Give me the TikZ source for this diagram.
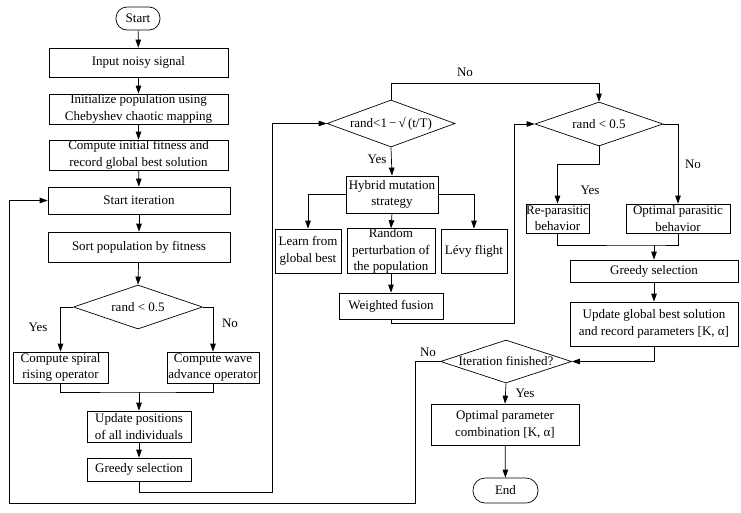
\documentclass[tikz,border=0pt]{standalone}
\usepackage{fontspec}
\setmainfont{Liberation Serif}
\usetikzlibrary{shapes.geometric,arrows.meta}
\begin{document}
\begin{tikzpicture}[x=1pt,y=-1pt,
  txt/.style={font=\fontsize{13}{16.5}\selectfont},
  box/.style={draw,line width=0.7pt,align=center,inner sep=0pt,txt},
  dia/.style={draw,diamond,line width=0.7pt,inner sep=0pt},
  term/.style={box,rounded corners=11pt},
  lbl/.style={txt,inner sep=0pt},
  arr/.style={line width=0.7pt,-{Triangle[length=8pt,width=5.5pt]}},
  ln/.style={line width=0.7pt}]
\useasboundingbox (0,0) rectangle (741,512);
% left column
\node[term,minimum width=44pt,minimum height=23pt] (start) at (138,18.5) {Start};
\node[box,minimum width=179pt,minimum height=29pt] (input) at (138.5,62.5) {Input noisy signal};
\node[box,minimum width=179pt,minimum height=30pt] (init) at (138.5,109) {Initialize population using\\Chebyshev chaotic mapping};
\node[box,minimum width=179pt,minimum height=30pt] (comp) at (138.5,155) {Compute initial fitness and\\record global best solution};
\node[box,minimum width=182pt,minimum height=27pt] (iter) at (139,200.5) {Start iteration};
\node[box,minimum width=182pt,minimum height=30pt] (sort) at (139,247) {Sort population by fitness};
\node[dia,minimum width=129pt,minimum height=44pt,label={[txt]center:rand < 0.5}] (d1) at (138,307) {};
\node[box,minimum width=95pt,minimum height=31pt] (spiral) at (60.5,367.5) {Compute spiral\\rising operator};
\node[box,minimum width=92pt,minimum height=31pt] (wave) at (213,367.5) {Compute wave\\advance operator};
\node[box,minimum width=104pt,minimum height=31pt] (update) at (139,426.5) {Update positions\\of all individuals};
\node[box,minimum width=104pt,minimum height=23pt] (greedy1) at (139,469.5) {Greedy selection};
\node[lbl] (yes1) at (38,327) {Yes};
\node[lbl] (no1) at (230,323) {No};
% middle column
\node[dia,minimum width=128pt,minimum height=47pt,label={[txt]center:rand<1\,\textminus\,√\,(t/T)}] (d2) at (391,123.5) {};
\node[box,minimum width=92pt,minimum height=37pt] (hybrid) at (392,194.5) {Hybrid mutation\\strategy};
\node[box,minimum width=66pt,minimum height=44pt] (learn) at (308,251) {Learn from\\global best};
\node[box,minimum width=88pt,minimum height=44pt] (random) at (391,251) {Random\\perturbation of\\the population};
\node[box,minimum width=66pt,minimum height=44pt] (levy) at (474,251) {Lévy flight};
\node[box,minimum width=104pt,minimum height=26pt] (weighted) at (391,306) {Weighted fusion};
\node[lbl] (no2) at (465,72) {No};
\node[lbl] (yes2) at (377,159) {Yes};
% right column
\node[dia,minimum width=128pt,minimum height=44pt,label={[txt]center:rand < 0.5}] (d3) at (599,124) {};
\node[box,minimum width=61pt,minimum height=29pt] (repara) at (557.5,218.5) {Re-parasitic\\behavior};
\node[box,minimum width=104pt,minimum height=29pt] (optpara) at (678,218.5) {Optimal parasitic\\behavior};
\node[box,minimum width=168pt,minimum height=22pt] (greedy2) at (654,271) {Greedy selection};
\node[box,minimum width=168pt,minimum height=44pt] (updglob) at (654,324) {Update global best solution\\and record parameters [K, α]};
\node[dia,minimum width=131pt,minimum height=43pt,label={[txt]center:Iteration finished?}] (d4) at (506,361.5) {};
\node[box,minimum width=148pt,minimum height=41pt] (optparam) at (505,424.5) {Optimal parameter\\combination [K, α]};
\node[term,minimum width=65pt,minimum height=25pt,rounded corners=12pt] (endn) at (505.5,490.5) {End};
\node[lbl] (yes3) at (590,190) {Yes};
\node[lbl] (no3) at (693,164) {No};
\node[lbl] (no4) at (428,352) {No};
\node[lbl] (yes4) at (525,393) {Yes};
% helper coordinates
\coordinate (m1) at (139,392);
\coordinate (c1) at (272,492);
\coordinate (c2) at (599,83);
\coordinate (c3) at (514,323);
\coordinate (c4) at (599,164);
\coordinate (m2) at (654,245);
\coordinate (c5) at (415,503);
\coordinate (c6) at (9,503);
% connectors left
\draw[arr] (start) -- (input);
\draw[arr] (input) -- (init);
\draw[arr] (init) -- (comp);
\draw[arr] (comp) -- (iter);
\draw[arr] (iter) -- (sort);
\draw[arr] (sort) -- (d1.north);
\draw[arr] (d1.west) -| (spiral.north);
\draw[arr] (d1.east) -| (wave.north);
\draw[ln] (spiral.south) |- (m1) -| (wave.south);
\draw[arr] (m1) -- (update.north);
\draw[arr] (update) -- (greedy1);
\draw[arr] (greedy1.south) |- (c1) |- (d2.west);
% connectors middle
\draw[arr] (d2.north) |- (c2) -- (d3.north);
\draw[arr] (d2.south) -- (hybrid.north);
\draw[arr] (hybrid.west) -| (learn.north);
\draw[arr] (hybrid.east) -| (levy.north);
\draw[arr] (hybrid.south) -- (random.north);
\draw[arr] (random.south) -- (weighted.north);
\draw[arr] (weighted.south) |- (c3) |- (d3.west);
% connectors right
\draw[arr] (d3.south) -- (c4) -| (repara.north);
\draw[arr] (d3.east) -| (optpara.north);
\draw[ln] (repara.south) |- (m2) -| (optpara.south);
\draw[arr] (m2) -- (greedy2.north);
\draw[arr] (greedy2) -- (updglob);
\draw[arr] (updglob.south) |- (d4.east);
\draw[arr] (d4.south) -- (optparam.north);
\draw[arr] (optparam) -- (endn);
\draw[arr] (d4.west) -| (c5) -- (c6) |- (iter.west);
\end{tikzpicture}
\end{document}
